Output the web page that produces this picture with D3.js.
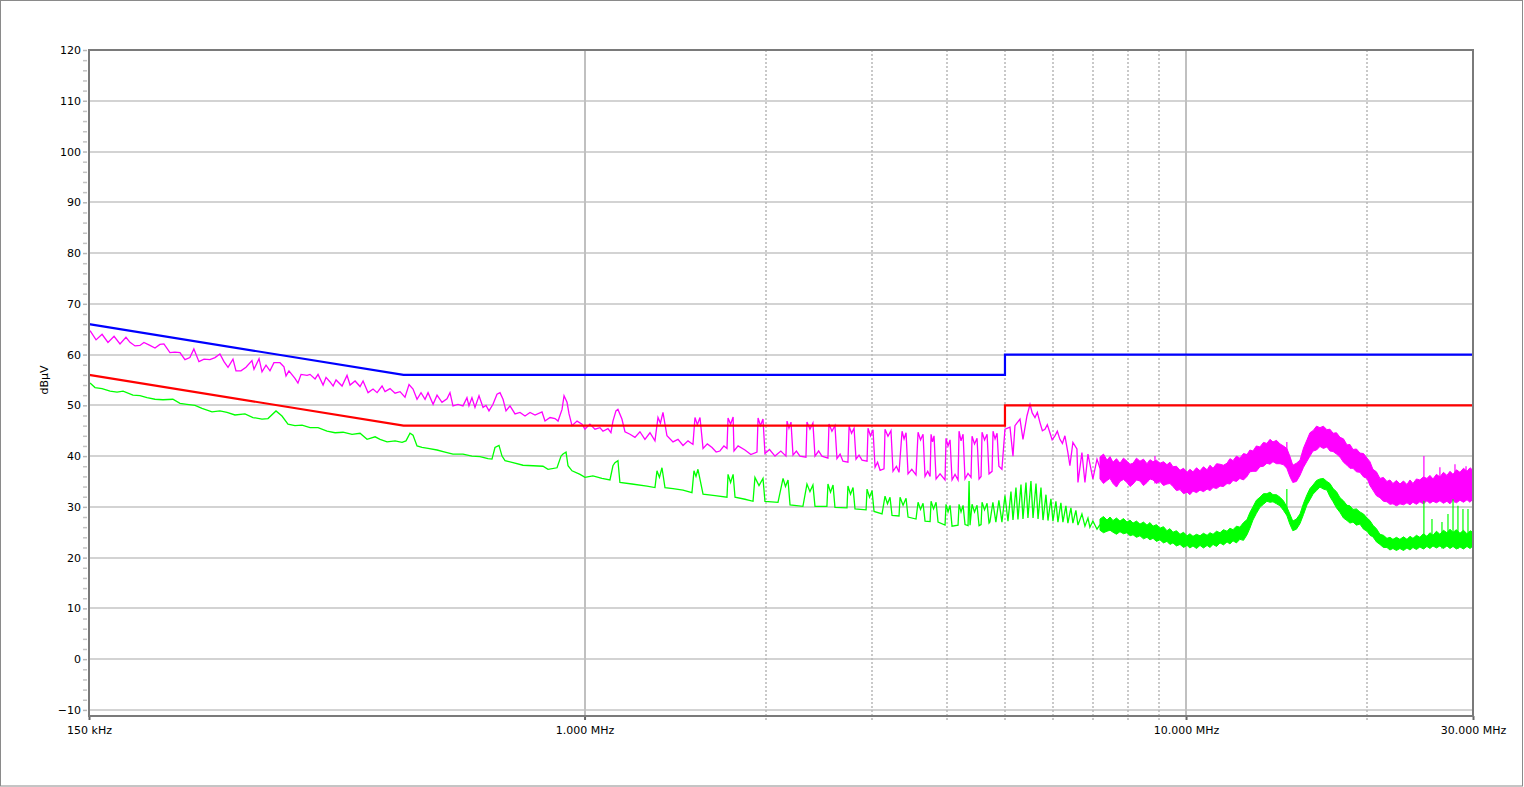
<!DOCTYPE html>
<html>
<head>
<meta charset="utf-8">
<script src="https://cdn.jsdelivr.net/npm/d3@7"></script>
<style>
  body { margin: 0; background: #fff; }
  svg { display: block; font-family: "DejaVu Sans", Verdana, sans-serif; }
</style>
</head>
<body>
<svg id="chart" width="1524" height="787"></svg>
<script>
// Conducted emission scan, 150 kHz - 30 MHz (frequencies in MHz, levels in dBuV)

const yTicks = [-10, 0, 10, 20, 30, 40, 50, 60, 70, 80, 90, 100, 110, 120];
const xTickValues = [0.15, 1, 10, 30];
const xTickLabels = ['150 kHz', '1.000 MHz', '10.000 MHz', '30.000 MHz'];
const solidFreqs = [1, 10];
const dottedFreqs = [2, 3, 4, 5, 6, 7, 8, 9, 20];

// limit lines
const qpLimitFreq = [0.15, 0.5, 5, 5, 30];
const qpLimitLevel = [66, 56, 56, 60, 60];
const avLimitFreq = [0.15, 0.5, 5, 5, 30];
const avLimitLevel = [56, 46, 46, 50, 50];

// peak trace (magenta), 150 kHz - 1 MHz
const peakFreqLow = [
  0.1506,0.1541,0.1577,0.1613,0.1651,0.1689,0.1728,0.1755,0.1789,0.1823,0.1851,0.1894,0.1931,0.1968,0.1998,
  0.2045,0.2084,0.2125,0.2166,0.2207,0.2241,0.2285,0.2330,0.2383,0.2430,0.2476,0.2515,0.2554,0.2603,0.2633,
  0.2684,0.2736,0.2799,0.2821,0.2876,0.2909,0.2954,0.2999,0.3045,0.3116,0.3164,0.3189,0.3225,0.3300,0.3338,
  0.3378,0.3457,0.3496,0.3564,0.3605,0.3675,0.3717,0.3775,0.3819,0.3862,0.3952,0.4028,0.4075,0.4154,0.4234,
  0.4283,0.4366,0.4450,0.4519,0.4606,0.4659,0.4749,0.4841,0.4934,0.5029,0.5107,0.5186,0.5266,0.5347,0.5430,
  0.5493,0.5600,0.5685,0.5794,0.5906,0.5974,0.6043,0.6160,0.6279,0.6375,0.6424,0.6498,0.6574,0.6676,0.6780,
  0.6857,0.6936,0.7043,0.7152,0.7235,0.7319,0.7403,0.7517,0.7663,0.7810,0.7962,0.8116,0.8273,0.8497,0.8595,
  0.8762,0.8931,0.9035,0.9174,0.9245,0.9351,0.9423,0.9531,0.9716,0.9904];
const peakLevelLow = [
  64.7,62.9,64.0,62.4,63.6,62.1,63.4,62.4,61.7,61.8,62.4,61.8,61.3,62.0,62.1,
  60.4,60.5,60.4,59.0,59.4,61.1,58.6,59.1,59.0,59.4,60.1,58.6,57.5,59.1,56.8,
  56.8,57.5,58.8,57.1,59.2,56.6,57.9,56.8,58.4,58.4,57.6,55.8,56.8,55.3,54.4,
  56.1,55.9,56.1,55.2,56.1,54.0,55.5,54.6,53.8,55.0,53.8,55.9,54.0,54.8,53.7,
  54.8,52.5,53.2,52.5,53.8,52.7,53.3,52.4,52.7,51.6,54.1,53.2,51.2,52.5,51.2,
  52.5,50.2,52.0,50.6,51.3,52.5,49.9,50.2,49.9,51.5,49.9,51.5,49.6,51.9,49.6,
  50.0,48.9,50.2,52.2,52.5,51.2,48.9,49.9,48.3,48.6,47.9,48.6,48.1,48.7,46.9,
  47.6,47.4,46.9,49.2,51.9,50.6,48.3,46.0,46.9,46.3];

// peak trace (magenta), 1 MHz - 7.2 MHz
const peakFreqMid = [
  1.0015,1.0208,1.0406,1.0607,1.0730,1.0937,1.1063,1.1148,1.1277,1.1363,
  1.1538,1.1673,1.1899,1.2128,1.2361,1.2601,1.2846,1.3094,1.3246,1.337,
  1.3501,1.3709,1.4029,1.4301,1.4579,1.4859,1.5144,1.5261,1.540,1.5557,
  1.574,1.600,1.629,1.655,1.679,1.705,1.725,1.732,1.749,1.766,
  1.772,1.800,1.848,1.890,1.935,1.943,1.961,1.980,1.995,2.030,
  2.073,2.120,2.162,2.171,2.187,2.204,2.221,2.250,2.281,2.334,
  2.343,2.370,2.397,2.416,2.450,2.481,2.539,2.549,2.578,2.608,
  2.628,2.660,2.689,2.741,2.753,2.779,2.806,2.827,2.860,2.893,
  2.949,2.960,2.988,3.017,3.041,3.070,3.100,3.147,3.159,3.195,
  3.232,3.257,3.300,3.333,3.372,3.398,3.424,3.450,3.500,3.557,
  3.585,3.619,3.654,3.682,3.720,3.754,3.768,3.789,3.811,3.841,
  3.900,3.975,3.990,4.021,4.052,4.083,4.130,4.178,4.194,4.226,
  4.259,4.291,4.340,4.391,4.408,4.450,4.493,4.528,4.563,4.580,
  4.624,4.669,4.704,4.759,4.777,4.814,4.851,4.885,4.942,5.000,
  5.097,5.156,5.195,5.296,5.357,5.439,5.503,5.55,5.609,5.66,
  5.717,5.77,5.827,5.88,5.939,5.99,6.054,6.11,6.171,6.23,
  6.290,6.362,6.411,6.485,6.586,6.612,6.713,6.791,6.870,7.001,
  7.112,7.194];
const peakLevelMid = [
  45.3,46.3,45.3,45.6,44.9,45.4,44.6,46.9,48.9,49.2,
  47.3,44.8,44.3,43.7,44.8,43.3,44.6,43.0,47.6,46.5,
  48.6,44.0,42.8,43.3,42.1,43.0,42.3,47.6,46.2,47.6,
  41.5,42.4,41.7,40.8,41.0,42.0,41.5,47.5,46.3,47.7,
  41.0,42.0,41.2,40.3,40.8,47.5,46.0,47.3,40.5,41.3,
  40.0,41.0,40.0,46.9,45.5,46.7,40.2,41.0,40.0,39.8,
  46.7,45.3,46.5,40.0,41.0,40.0,39.6,46.3,44.9,46.0,
  39.5,40.4,39.0,38.8,45.9,44.5,45.5,39.4,40.2,39.2,
  39.0,45.5,44.0,45.2,37.8,38.8,37.2,37.5,45.3,43.9,
  45.0,37.0,38.0,36.8,44.9,43.4,44.6,36.5,37.4,36.3,
  44.7,43.2,44.3,36.0,37.0,36.0,44.3,42.8,44.0,35.5,
  36.5,35.3,43.5,42.0,43.2,35.3,36.4,35.3,44.9,43.0,
  44.3,35.5,36.6,35.8,43.9,42.4,43.5,35.5,36.0,44.7,
  43.2,44.3,36.5,37.0,44.9,43.4,44.5,38.0,37.4,45.3,
  45.7,40.0,46.0,47.3,43.3,47.9,50.2,48.5,47.6,48.6,
  46.6,45.0,45.3,46.2,44.6,43.2,44.0,44.9,43.3,42.5,
  44.0,40.7,38.1,42.7,41.4,34.8,40.7,34.8,40.4,35.5,
  39.4,37.6];

// average trace (green), 150 kHz - 1 MHz
const avgFreqLow = [
  0.1506,0.1535,0.1577,0.1626,0.1670,0.1709,0.1775,0.1823,0.1873,0.1931,0.1991,0.2068,0.2125,0.2182,0.2251,
  0.2312,0.2402,0.2476,0.2544,0.2623,0.2725,0.2810,0.2909,0.2976,0.3069,0.3140,0.3213,0.3300,0.3391,0.3496,
  0.3605,0.3731,0.3848,0.3967,0.4106,0.4234,0.4349,0.4485,0.4571,0.4695,0.4841,0.4972,0.5048,0.5126,0.5186,
  0.5266,0.5367,0.5493,0.5685,0.5862,0.6043,0.6279,0.6498,0.6702,0.6910,0.7016,0.7097,0.7207,0.7291,0.7375,
  0.7604,0.7901,0.8211,0.8529,0.8694,0.9000,0.9139,0.9209,0.9316,0.9387,0.9531,0.9829];
const avgLevelLow = [
  54.4,53.5,53.3,52.8,52.6,52.8,52.0,51.9,51.5,51.2,51.1,51.2,50.4,50.2,50.0,
  49.4,48.7,48.9,48.6,48.1,48.3,47.6,47.3,47.4,48.9,47.9,46.3,46.0,46.1,45.6,
  45.6,44.9,44.6,44.7,44.3,44.5,43.3,43.8,43.3,42.8,43.0,42.7,43.0,44.5,44.1,
  42.0,41.7,41.5,41.2,40.8,40.4,40.4,40.0,39.9,39.5,39.4,41.7,42.1,40.0,39.1,
  38.7,38.2,38.1,38.0,37.4,37.7,40.0,40.4,40.8,38.1,37.1,36.4];

// average trace (green), 1 MHz - 7.2 MHz
const avgFreqMid = [
  1.0015,1.0327,1.0689,1.1021,1.1148,1.1234,1.1363,1.1450,1.1989,1.2698,
  1.3094,1.3195,1.332,1.3450,1.3605,1.4029,1.4579,1.5086,1.5202,1.532,
  1.5436,1.574,1.648,1.725,1.732,1.749,1.766,1.779,1.848,1.906,
  1.920,1.950,1.980,1.995,2.097,2.138,2.158,2.179,2.196,2.307,
  2.343,2.370,2.397,2.416,2.529,2.539,2.564,2.589,2.608,2.731,
  2.741,2.768,2.795,2.816,2.938,2.949,2.977,3.006,3.029,3.123,
  3.159,3.189,3.220,3.245,3.333,3.346,3.385,3.424,3.450,3.557,
  3.585,3.619,3.654,3.682,3.754,3.768,3.804,3.841,3.870,3.975,
  3.990,4.021,4.052,4.083,4.178,4.194,4.226,4.259,4.291,4.341,
  4.358,4.374,4.408,4.450,4.493,4.528,4.563,4.580,4.624,4.669,
  4.704,4.720,4.774,4.829,4.885,4.942,5.000,5.058,5.116,5.156,
  5.215,5.255,5.316,5.357,5.419,5.460,5.523,5.567,5.631,5.675,
  5.739,5.784,5.850,5.895,5.962,6.008,6.077,6.124,6.194,6.242,
  6.314,6.362,6.436,6.485,6.560,6.612,6.713,6.791,6.870,6.921,
  7.001,7.112,7.194];
const avgLevelMid = [
  35.8,36.1,35.6,35.3,38.1,38.7,39.1,34.8,34.5,34.1,
  33.8,37.1,35.8,37.7,33.8,33.6,33.3,32.8,37.1,36.0,
  37.4,32.5,32.2,31.9,36.4,34.8,36.4,31.9,31.5,31.1,
  35.8,34.2,35.6,31.1,30.9,35.6,34.0,35.3,30.4,30.1,
  34.5,33.0,34.3,30.1,30.1,34.5,32.9,34.3,29.9,29.8,
  34.1,32.5,33.8,29.6,29.4,33.5,31.9,33.2,29.1,28.6,
  32.1,30.6,31.9,28.3,28.2,31.9,30.3,31.7,28.0,27.6,
  30.9,29.5,30.7,27.2,27.1,31.1,29.6,30.9,27.0,26.4,
  30.5,29.0,30.3,26.2,26.4,30.5,29.0,30.3,26.5,26.3,
  35.1,26.4,30.5,29.0,30.3,26.3,26.5,30.9,29.4,30.7,
  26.8,27.0,30.9,27.0,31.3,27.0,32.2,27.2,33.0,27.4,
  33.8,27.5,34.4,27.6,34.8,27.8,35.1,27.8,34.6,27.6,
  33.8,27.4,32.4,27.3,31.6,27.2,31.1,27.0,30.8,27.0,
  30.2,26.8,29.8,26.8,29.3,26.4,28.6,26.2,27.8,26.0,
  27.2,25.6,26.5];

// dense part above ~7 MHz: both traces fill a band between a low and a high level
const bandFreq = [
  7.194,7.291,7.390,7.475,7.561,7.663,7.766,7.871,7.977,8.070,
  8.164,8.273,8.384,8.497,8.612,8.711,8.812,8.931,9.051,9.173,
  9.296,9.403,9.512,9.641,9.772,9.905,10.04,10.15,10.27,10.41,
  10.55,10.69,10.84,10.96,11.09,11.24,11.39,11.54,11.70,11.83,
  11.97,12.13,12.29,12.46,12.63,12.77,12.92,13.09,13.27,13.45,
  13.63,13.79,13.95,14.14,14.33,14.52,14.71,14.88,15.05,15.26,
  15.47,15.68,15.89,16.07,16.26,16.48,16.70,16.92,17.15,17.35,
  17.56,17.79,18.03,18.27,18.52,18.73,18.95,19.20,19.46,19.73,
  20.0,20.22,20.45,20.73,21.01,21.29,21.58,21.83,22.08,22.38,
  22.68,22.99,23.30,23.57,23.84,24.16,24.48,24.81,25.15,25.44,
  25.74,26.08,26.43,26.79,27.15,27.47,27.79,28.16,28.54,28.93,
  29.32,29.66,30.0];
const peakBandLo = [
  35.5,34.6,35.2,35.6,34.6,33.9,35.0,35.4,34.8,34.0,
  34.5,35.3,35.1,34.2,34.8,35.5,35.3,34.6,35.0,34.2,
  34.5,34.6,34.0,33.2,33.4,32.6,32.9,32.4,33.1,32.8,
  33.3,33.0,33.5,33.2,33.8,33.6,34.1,34.0,34.6,34.5,
  35.2,35.0,35.6,35.3,36.0,36.9,37.0,37.0,37.9,38.0,
  38.6,38.4,38.9,38.5,38.5,38.3,37.6,36.0,34.8,35.0,
  36.2,37.8,39.0,40.0,41.0,41.2,41.9,41.5,41.8,41.0,
  40.9,40.4,39.8,38.8,38.2,37.6,37.6,36.9,36.8,35.9,
  35.6,34.2,33.3,32.2,31.8,31.1,31.0,30.5,30.6,30.2,
  30.6,30.4,30.8,30.4,30.9,30.5,31.0,30.6,31.2,30.7,
  31.1,30.8,31.2,30.7,31.1,30.6,31.3,30.8,31.3,30.9,
  31.4,30.9,31.6];
const peakBandHi = [
  39.8,40.4,39.2,39.9,38.8,39.5,38.6,39.6,39.0,38.4,
  38.6,39.6,39.0,39.4,38.5,39.3,38.9,39.2,38.6,38.9,
  38.3,38.8,37.9,38.0,37.2,37.6,36.8,37.4,36.9,37.7,
  37.1,37.9,37.3,38.2,37.6,38.5,38.4,38.2,38.6,39.5,
  39.1,40.0,39.6,40.5,40.3,41.2,41.0,42.0,41.8,42.7,
  42.5,43.3,42.8,43.1,42.4,42.0,41.5,40.0,38.2,38.6,
  39.2,41.6,43.2,44.6,45.0,45.9,45.6,45.9,45.2,45.3,
  44.5,44.6,43.7,43.4,42.2,42.3,41.3,41.4,40.6,40.5,
  39.6,38.9,37.4,36.9,35.6,35.8,35.0,35.3,34.6,35.2,
  34.5,35.1,34.4,35.3,34.6,35.5,35.3,35.9,35.6,36.2,
  35.5,36.4,35.9,36.8,36.2,37.0,36.4,37.3,36.8,37.6,
  37.0,37.7,37.2];
const avgBandLo = [
  25.4,24.9,25.2,25.4,25.0,24.6,25.1,24.7,24.9,24.3,
  24.5,24.0,24.3,23.7,24.0,23.5,23.8,23.2,23.5,22.9,
  23.2,22.6,22.9,22.3,22.6,22.0,22.4,21.9,22.3,21.8,
  22.4,21.9,22.4,22.0,22.6,22.2,22.9,22.5,23.1,22.7,
  23.3,22.9,23.6,23.4,24.5,25.8,27.4,28.7,29.9,30.5,
  31.1,30.9,31.0,30.6,30.2,29.3,28.3,26.6,25.3,25.6,
  26.7,28.5,30.4,31.4,32.5,33.2,33.9,33.5,33.3,32.0,
  31.0,29.8,28.9,27.8,27.3,26.8,27.0,26.4,26.6,25.6,
  25.2,24.4,24.1,23.1,22.6,22.0,22.0,21.5,21.8,21.4,
  21.8,21.4,21.9,21.5,22.0,21.6,22.1,21.7,22.2,21.8,
  22.3,21.9,22.3,21.8,22.3,21.8,22.2,21.7,22.1,21.7,
  22.2,21.8,22.3];
const avgBandHi = [
  27.6,28.1,27.4,28.0,27.3,27.8,27.2,27.7,27.0,27.4,
  26.8,27.2,26.6,27.0,26.4,26.9,26.2,26.5,25.8,26.1,
  25.3,25.7,25.0,25.3,24.6,25.0,24.3,24.7,24.2,24.6,
  24.3,24.8,24.4,24.9,24.6,25.2,24.9,25.5,25.2,25.8,
  25.5,26.2,26.0,26.9,27.5,28.9,30.0,31.3,31.9,32.6,
  32.6,32.9,32.4,32.4,31.9,31.2,30.0,28.6,27.2,27.6,
  28.6,30.7,32.4,33.6,34.3,35.2,35.5,35.6,35.0,34.6,
  33.6,33.0,31.8,31.2,30.3,30.2,29.5,29.6,29.0,28.6,
  27.8,27.3,26.4,25.7,24.6,24.4,23.8,24.0,23.6,24.0,
  23.6,24.1,23.6,24.2,23.8,24.4,24.0,24.7,24.2,24.9,
  24.4,25.2,24.6,25.4,24.9,25.6,25.0,25.5,24.8,25.4,
  24.7,25.3,25.0];

// single spikes sticking out of the band
const peakSpikeFreq = [8.879, 14.71, 24.86, 26.43, 28.0, 29.21];
const peakSpikeLevel = [40.0, 42.8, 40.0, 37.8, 38.4, 38.0];
const avgSpikeFreq = [14.71, 24.86, 25.64, 26.64, 27.26, 27.79, 28.32, 28.87, 29.43];
const avgSpikeLevel = [33.5, 31.2, 27.6, 27.0, 28.6, 31.5, 30.2, 29.6, 29.6];

const plot = { left: 89, right: 1473, top: 50, bottom: 716 };

const svg = d3.select('#chart');

const x = d3.scaleLog().domain([0.15, 30]).range([plot.left, plot.right]);
const y = d3.scaleLinear().domain([-11.2, 120]).range([plot.bottom, plot.top]);

// outer border
svg.append('rect')
  .attr('x', 0.5).attr('y', 0.5)
  .attr('width', 1522).attr('height', 785.5)
  .attr('fill', 'none')
  .attr('stroke', '#8a8a8a')
  .attr('stroke-width', 1);

// horizontal grid
svg.append('g')
  .selectAll('line')
  .data(yTicks.filter(d => d < 120))
  .join('line')
    .attr('x1', plot.left).attr('x2', plot.right)
    .attr('y1', d => Math.round(y(d))).attr('y2', d => Math.round(y(d)))
    .attr('stroke', '#d3d3d3')
    .attr('stroke-width', 2);

// vertical grid: solid decades, dotted in between
svg.append('g')
  .selectAll('line')
  .data(solidFreqs)
  .join('line')
    .attr('x1', d => Math.round(x(d))).attr('x2', d => Math.round(x(d)))
    .attr('y1', plot.top).attr('y2', plot.bottom)
    .attr('stroke', '#c0c0c0')
    .attr('stroke-width', 2);

svg.append('g')
  .selectAll('line')
  .data(dottedFreqs)
  .join('line')
    .attr('x1', d => Math.round(x(d))).attr('x2', d => Math.round(x(d)))
    .attr('y1', plot.top).attr('y2', plot.bottom + 5)
    .attr('stroke', '#b8b8b8')
    .attr('stroke-width', 1.5)
    .attr('stroke-dasharray', '2,2');

// y axis: major and minor ticks outside the frame
const yMinor = d3.range(-10, 121, 2).filter(d => d % 10 !== 0);
const yAxisMinor = svg.append('g')
  .attr('transform', `translate(${plot.left - 2},0)`)
  .call(d3.axisLeft(y).tickValues(yMinor).tickSize(4).tickFormat(''));
yAxisMinor.select('.domain').remove();
yAxisMinor.selectAll('line').attr('stroke', '#c4c4c4').attr('stroke-width', 1.5);

const yAxis = svg.append('g')
  .attr('transform', `translate(${plot.left - 2},0)`)
  .call(d3.axisLeft(y).tickValues(yTicks).tickSize(4).tickPadding(2));
yAxis.select('.domain').remove();
yAxis.selectAll('line').attr('stroke', '#b8b8b8').attr('stroke-width', 1.5);
yAxis.selectAll('text')
  .attr('fill', '#000')
  .style('font-family', '"DejaVu Sans", Verdana, sans-serif')
  .style('font-size', '11px');

svg.append('text')
  .attr('transform', 'translate(48,380) rotate(-90)')
  .attr('text-anchor', 'middle')
  .attr('fill', '#000')
  .style('font-size', '11px')
  .text('dBµV');

// x axis labels
const xAxis = svg.append('g')
  .attr('transform', `translate(0,${plot.bottom})`)
  .call(d3.axisBottom(x).tickValues(xTickValues).tickSize(4).tickPadding(6)
    .tickFormat((d, i) => xTickLabels[i]));
xAxis.select('.domain').remove();
xAxis.selectAll('line').attr('stroke', '#666').attr('stroke-width', 2);
xAxis.selectAll('text')
  .attr('fill', '#000')
  .style('font-family', '"DejaVu Sans", Verdana, sans-serif')
  .style('font-size', '11px');

// traces
const line = d3.line().x(d => x(d[0])).y(d => y(d[1]));
const band = d3.area().x(d => x(d[0])).y0(d => y(d[1])).y1(d => y(d[2]));
const nearest = d3.bisector(d => d).center;

function drawTrace(freq, level, bLo, bHi, sFreq, sLevel, color) {
  const g = svg.append('g');
  g.append('path')
    .datum(bandFreq.map((f, i) => [f, bLo[i], bHi[i]]))
    .attr('d', band)
    .attr('fill', color)
    .attr('stroke', color)
    .attr('stroke-width', 1)
    .attr('stroke-linejoin', 'miter');
  g.append('path')
    .datum(freq.map((f, i) => [f, level[i]]))
    .attr('d', line)
    .attr('fill', 'none')
    .attr('stroke', color)
    .attr('stroke-width', 1.3);
  g.selectAll('line')
    .data(sFreq.map((f, i) => [f, sLevel[i], bLo[nearest(bandFreq, f)]]))
    .join('line')
      .attr('x1', d => x(d[0])).attr('x2', d => x(d[0]))
      .attr('y1', d => y(d[1])).attr('y2', d => y(d[2]))
      .attr('stroke', color)
      .attr('stroke-width', 1.2);
}

drawTrace(peakFreqLow.concat(peakFreqMid), peakLevelLow.concat(peakLevelMid),
  peakBandLo, peakBandHi, peakSpikeFreq, peakSpikeLevel, '#ff00ff');
drawTrace(avgFreqLow.concat(avgFreqMid), avgLevelLow.concat(avgLevelMid),
  avgBandLo, avgBandHi, avgSpikeFreq, avgSpikeLevel, '#00ff00');

// limit lines
svg.append('path')
  .datum(qpLimitFreq.map((f, i) => [f, qpLimitLevel[i]]))
  .attr('d', line)
  .attr('fill', 'none')
  .attr('stroke', '#0000ff')
  .attr('stroke-width', 2.2);

svg.append('path')
  .datum(avLimitFreq.map((f, i) => [f, avLimitLevel[i]]))
  .attr('d', line)
  .attr('fill', 'none')
  .attr('stroke', '#ff0000')
  .attr('stroke-width', 2.2);

// plot frame
svg.append('rect')
  .attr('x', plot.left).attr('y', plot.top)
  .attr('width', plot.right - plot.left).attr('height', plot.bottom - plot.top)
  .attr('fill', 'none')
  .attr('stroke', '#7a7a7a')
  .attr('stroke-width', 2);
</script>
</body>
</html>
